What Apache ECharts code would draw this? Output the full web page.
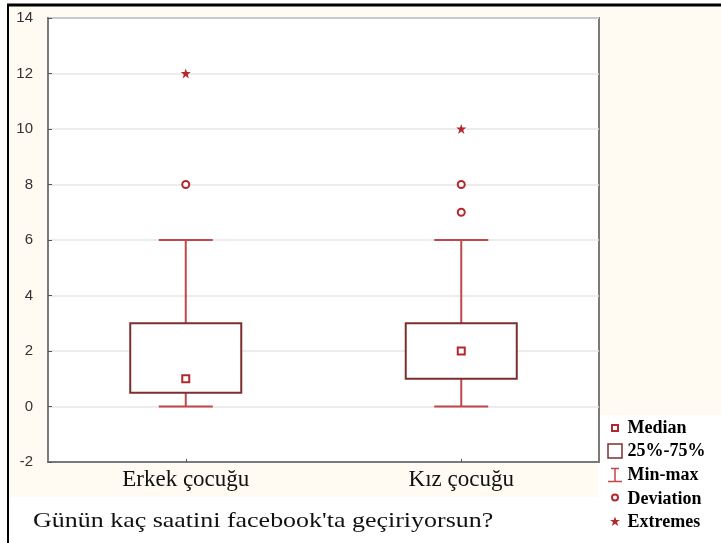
<!DOCTYPE html>
<html>
<head>
<meta charset="utf-8">
<script src="https://cdn.jsdelivr.net/npm/echarts@6/dist/echarts.min.js"></script>
<style>
html,body{margin:0;padding:0;background:#ffffff;}
#chart{width:721px;height:543px;}
</style>
</head>
<body>
<div id="chart"></div>
<script>
// ---- data ----
var categories = ['Erkek çocuğu', 'Kız çocuğu'];
var minVals = [0, 0];
var q1Vals = [0.5, 1];
var medianVals = [1, 2];
var q3Vals = [3, 3];
var maxVals = [6, 6];
var deviationPoints = [[0, 8], [1, 7], [1, 8]];
var extremePoints = [[0, 12], [1, 10]];
var yTicks = [-2, 0, 2, 4, 6, 8, 10, 12, 14];
var axisTitle = "Günün kaç saatini facebook'ta geçiriyorsun?";
var legendNames = ['Median', '25%-75%', 'Min-max', 'Deviation', 'Extremes'];

// ---- derived tables ----
var boxData = categories.map(function (c, i) { return [i, q1Vals[i], q3Vals[i]]; });
var whiskerData = categories.map(function (c, i) { return [i, minVals[i], q1Vals[i], q3Vals[i], maxVals[i]]; });
var medianData = categories.map(function (c, i) { return [i, medianVals[i]]; });

var boxColor = '#7d2f30';
var whiskerColor = '#c0474b';
var markColor = '#b3282d';
var starPath = 'path://M5,0 L6.2,3.4 L10,3.4 L7,5.6 L8.1,9.5 L5,7.2 L1.9,9.5 L3,5.6 L0,3.4 L3.8,3.4 Z';

var chart = echarts.init(document.getElementById('chart'), null, {renderer: 'canvas'});
var option = {
  backgroundColor: '#ffffff',
  animation: false,
  graphic: [
    {type: 'rect', z: -10, silent: true, shape: {x: 8, y: 5, width: 713, height: 492}, style: {fill: '#fffbf2'}},
    {type: 'rect', z: -9, silent: true, shape: {x: 598, y: 415, width: 123, height: 118}, style: {fill: '#ffffff'}},
    {type: 'line', z: 10, silent: true, shape: {x1: 7, y1: 5, x2: 721, y2: 5}, style: {stroke: '#000', lineWidth: 3}},
    {type: 'line', z: 10, silent: true, shape: {x1: 8, y1: 5, x2: 8, y2: 543}, style: {stroke: '#000', lineWidth: 2}},
    {type: 'text', z: 10, x: 33, y: 521, scaleX: 1.18,
      style: {text: axisTitle, x: 0, y: 0, fontFamily: 'Liberation Serif', fontSize: 22, fill: '#111', verticalAlign: 'middle'}}
  ],
  grid: {
    left: 48, right: 122, top: 18, bottom: 81,
    show: true, backgroundColor: '#ffffff', borderColor: '#7a7a7a', borderWidth: 2
  },
  legend: {
    orient: 'vertical',
    left: 600, top: 414,
    itemWidth: 15, itemHeight: 15,
    itemGap: 5,
    selectedMode: false,
    textStyle: {fontFamily: 'Liberation Serif', fontSize: 18, fontWeight: 'bold', color: '#000'},
    data: [
      {name: legendNames[0], icon: 'path://M0,0 M15,15 M4.5,4.5 L10.5,4.5 L10.5,10.5 L4.5,10.5 Z', itemStyle: {color: '#fff', borderColor: markColor, borderWidth: 2}},
      {name: legendNames[1], icon: 'path://M0,0 M15,15 M0.5,0.5 L14.5,0.5 L14.5,14.5 L0.5,14.5 Z', itemStyle: {color: '#fff', borderColor: boxColor, borderWidth: 1.5}},
      {name: legendNames[2], icon: 'path://M0,0 M15,15 M3.5,1 L11.5,1 M7.5,1 L7.5,14 M0.5,14 L14.5,14', itemStyle: {color: 'none', borderColor: whiskerColor, borderWidth: 1.5}},
      {name: legendNames[3], icon: 'path://M0,0 M15,15 M10.5,6 A3,3 0 1 1 4.5,6 A3,3 0 1 1 10.5,6 Z', itemStyle: {color: '#fff', borderColor: markColor, borderWidth: 2}},
      {name: legendNames[4], icon: 'path://M0,0 M15,15 M7.5,2 L8.7,5.4 L12.5,5.4 L9.5,7.6 L10.6,11.5 L7.5,9.2 L4.4,11.5 L5.5,7.6 L2.5,5.4 L6.3,5.4 Z', itemStyle: {color: markColor, borderWidth: 0}}
    ]
  },
  xAxis: {
    type: 'category',
    data: categories,
    boundaryGap: true,
    axisLine: {show: true, onZero: false, lineStyle: {color: '#7a7a7a', width: 2}},
    axisTick: {show: true, inside: true, alignWithLabel: true, length: 3, lineStyle: {color: '#555'}},
    axisLabel: {fontFamily: 'Liberation Serif', fontSize: 23, color: '#111', margin: 6},
    splitLine: {show: false}
  },
  yAxis: {
    type: 'value',
    min: yTicks[0], max: yTicks[yTicks.length - 1], interval: 2,
    axisLine: {show: true, lineStyle: {color: '#7a7a7a', width: 2}},
    axisTick: {show: true, inside: true, length: 4, lineStyle: {color: '#555'}},
    axisLabel: {fontFamily: 'Liberation Sans', fontSize: 15, color: '#333', margin: 15},
    splitLine: {show: true, lineStyle: {color: '#e6e6e6', width: 1.5}}
  },
  series: [
    {
      name: legendNames[2],
      type: 'custom',
      data: whiskerData,
      encode: {x: 0, y: [1, 2, 3, 4]},
      z: 2,
      renderItem: function (params, api) {
        var idx = api.value(0);
        var pMin = api.coord([idx, api.value(1)]);
        var pQ1 = api.coord([idx, api.value(2)]);
        var pQ3 = api.coord([idx, api.value(3)]);
        var pMax = api.coord([idx, api.value(4)]);
        var band = api.size([1, 0])[0];
        var half = band * 0.098;
        var st = {stroke: whiskerColor, lineWidth: 2};
        return {type: 'group', children: [
          {type: 'line', shape: {x1: pQ3[0], y1: pQ3[1], x2: pMax[0], y2: pMax[1]}, style: st},
          {type: 'line', shape: {x1: pMin[0], y1: pMin[1], x2: pQ1[0], y2: pQ1[1]}, style: st},
          {type: 'line', shape: {x1: pMax[0] - half, y1: pMax[1], x2: pMax[0] + half, y2: pMax[1]}, style: st},
          {type: 'line', shape: {x1: pMin[0] - half, y1: pMin[1], x2: pMin[0] + half, y2: pMin[1]}, style: st}
        ]};
      }
    },
    {
      name: legendNames[1],
      type: 'custom',
      data: boxData,
      encode: {x: 0, y: [1, 2]},
      z: 3,
      renderItem: function (params, api) {
        var idx = api.value(0);
        var pLo = api.coord([idx, api.value(1)]);
        var pHi = api.coord([idx, api.value(2)]);
        var band = api.size([1, 0])[0];
        var w = band * 0.403;
        return {
          type: 'rect',
          shape: {x: pLo[0] - w / 2, y: pHi[1], width: w, height: pLo[1] - pHi[1]},
          style: {fill: '#ffffff', stroke: boxColor, lineWidth: 2}
        };
      }
    },
    {
      name: legendNames[0],
      type: 'scatter',
      data: medianData,
      symbol: 'rect',
      symbolSize: 7,
      z: 5,
      itemStyle: {color: '#ffffff', borderColor: markColor, borderWidth: 2, opacity: 1}
    },
    {
      name: legendNames[3],
      type: 'scatter',
      data: deviationPoints,
      symbol: 'circle',
      symbolSize: 7,
      z: 5,
      itemStyle: {color: '#ffffff', borderColor: markColor, borderWidth: 2, opacity: 1}
    },
    {
      name: legendNames[4],
      type: 'scatter',
      data: extremePoints,
      symbol: starPath,
      symbolSize: 10,
      z: 5,
      itemStyle: {color: markColor, opacity: 1}
    }
  ]
};
chart.setOption(option);
</script>
</body>
</html>
